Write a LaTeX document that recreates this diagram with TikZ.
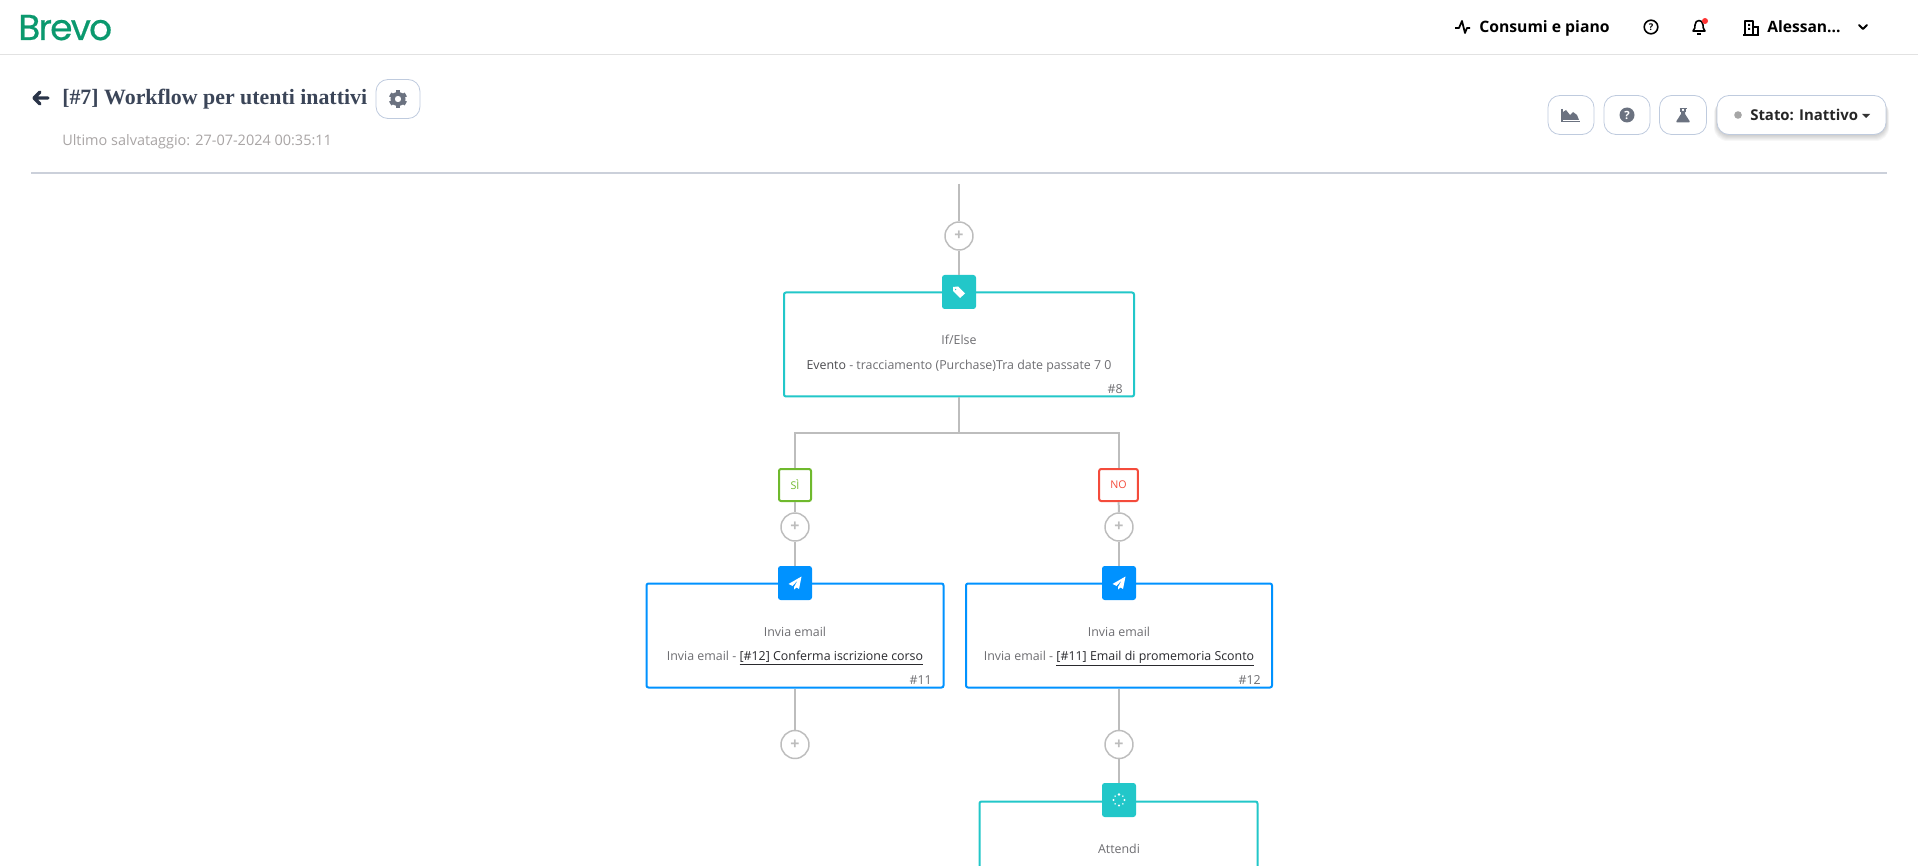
\documentclass[tikz,border=0pt]{standalone}
\usepackage{fontspec}
\setmainfont{Open Sans}
\newfontfamily\titlefont{Liberation Serif}
\newfontfamily\logofont[LetterSpace=-5,FakeBold=0.5]{Poppins}
\usepackage{xcolor}
\usetikzlibrary{
  arrows.meta,
  shapes.geometric,
  calc
}
\definecolor{logogreen}{HTML}{0B996E}
\definecolor{titleink}{HTML}{3B4558}
\definecolor{arrowink}{HTML}{2A3448}
\definecolor{dateink}{HTML}{A9A5A5}
\definecolor{ruleink}{HTML}{CBD0DA}
\definecolor{headrule}{HTML}{E2E2E2}
\definecolor{btnedge}{HTML}{BFCBDE}
\definecolor{iconink}{HTML}{6B7280}
\definecolor{wireink}{HTML}{BDBDBD}
\definecolor{tealbox}{HTML}{22C7C9}
\definecolor{bluebox}{HTML}{0092FF}
\definecolor{siink}{HTML}{6FB92D}
\definecolor{noink}{HTML}{F44B3B}
\definecolor{bodyink}{HTML}{6E6E72}
\definecolor{strongink}{HTML}{4C4C50}
\definecolor{linkink}{HTML}{2A2A2E}
\tikzset{
  boxsize/.style 2 args={minimum width=#1*0.75pt, minimum height=#2*0.75pt},
  flowbox/.style={draw=#1, line width=1.5pt, fill=white, rounded corners=1.5pt, inner sep=0pt},
  iconbox/.style={fill=#1, rounded corners=2pt, inner sep=0pt, minimum size=25.5pt},
  addbtn/.style={circle, draw=wireink, line width=1.1pt, fill=white, inner sep=0pt, minimum size=21pt,
    text=wireink, font=\fontsize{12pt}{12pt}\selectfont\bfseries},
  tagbox/.style={draw=#1, text=#1, line width=1.5pt, fill=white, rounded corners=1.5pt, inner sep=0pt,
    minimum height=24pt, font=\fontsize{8pt}{9pt}\selectfont},
  toolbtn/.style={draw=btnedge, line width=0.6pt, fill=white, rounded corners=9pt, inner sep=0pt},
  wire/.style={draw=wireink, line width=1.5pt},
  bodytxt/.style={inner sep=0pt, text=bodyink, font=\fontsize{9.3pt}{11pt}\selectfont},
  headtxt/.style={inner sep=0pt, font=\bfseries\fontsize{#1}{13pt}\selectfont}
}
\begin{document}
\begin{tikzpicture}[x=0.75pt, y=-0.75pt]
  \useasboundingbox (0,0) rectangle (1918,866);
  \fill[white] (0,0) rectangle (1918,866);
  \clip (0,0) rectangle (1918,866);

  \node[anchor=base west, inner sep=0pt, text=logogreen, font=\logofont\fontsize{27pt}{30pt}\selectfont] (logo) at (18,40) {Brevo};
  \coordinate (headl) at (0,55);
  \coordinate (headr) at (1918,55);
  \draw[headrule, line width=0.75pt] (headl) -- (headr);

  \node[headtxt=11.8pt, anchor=base west] (piano) at (1479,33) {Consumi e piano};
  \node[headtxt=11.7pt, anchor=base west] (user) at (1767,33) {Alessan...};
  \draw[line width=1.3pt, line join=round] (1455,28) -- (1459,28) -- (1462,21) -- (1465,33) -- (1467,28) -- (1470,28);
  \draw[line width=1.2pt] (1651,27) circle[radius=6.8];
  \node[anchor=center, inner sep=0pt, font=\bfseries\fontsize{7pt}{7pt}\selectfont] (helpq) at (1651,27) {?};
  \draw[line width=1.2pt, line join=round] (1693,31) .. controls (1695,29) and (1695,27) .. (1695,25) .. controls (1695,19) and (1703,19) .. (1703,25) .. controls (1703,27) and (1703,29) .. (1705,31) -- cycle;
  \fill (1697,33) rectangle (1701,35);
  \fill[red!80!white] (1705,21) circle[radius=3];
  \draw[line width=1.2pt, line join=round] (1745,35) -- (1745,21) -- (1753,21) -- (1753,35);
  \draw[line width=1.2pt] (1753,27) -- (1758,27) -- (1758,35);
  \draw[line width=1.2pt] (1743,35) -- (1759,35);
  \fill (1748,24) rectangle (1750,26) (1748,28) rectangle (1750,30);
  \draw[line width=1.4pt, line cap=round, line join=round] (1859,25) -- (1863,29) -- (1867,25);

  \draw[arrowink, line width=2.4pt, line join=round, line cap=round] (48,98) -- (34,98) (40,92) -- (34,98) -- (40,104);
  \node[anchor=base west, inner sep=0pt, text=titleink, font=\titlefont\bfseries\fontsize{16.4pt}{18pt}\selectfont] (title) at (62,105) {[\#7] Workflow per utenti inattivi};
  \node[anchor=base west, inner sep=0pt, text=dateink, font=\fontsize{10.85pt}{12pt}\selectfont] (saved) at (62,146) {Ultimo salvataggio: 27-07-2024 00:35:11};
  \coordinate (rulel) at (31,173);
  \coordinate (ruler) at (1887,173);
  \draw[ruleink, line width=0.8pt] (rulel) -- (ruler);

  \foreach \n/\x/\y/\w in {gearbtn/398/99/44, chartbtn/1571/115/46, hintbtn/1627/115/46, flaskbtn/1683/115/47}{
    \node[toolbtn, boxsize={\w}{39}] (\n) at (\x,\y) {};
  }
  \foreach \s in {1,...,6}{
    \fill[black, opacity=0.03, rounded corners=10pt] (1717-\s/2,97+\s/2) rectangle (1886+\s/2,135+\s);
  }
  \node[toolbtn, boxsize={169}{39}] (statobtn) at (1801.5,115) {};
  \fill[gray!70] (1738,115) circle[radius=3.8];
  \node[headtxt=11.2pt, anchor=base west, text=black!85] (stato) at (1750,121) {Stato: Inattivo};
  \fill[black!80] (1862,114) -- (1870,114) -- (1866,118) -- cycle;

  \begin{scope}[shift={(gearbtn.center)}, iconink]
    \draw[line width=3pt] (0,0) circle[radius=5.4];
    \foreach \a in {0,60,...,300}{
      \fill[rotate=\a] (-2.2,-9) rectangle (2.2,-6);
    }
  \end{scope}
  \begin{scope}[shift={(chartbtn.center)}, iconink]
    \fill (-8,5) -- (-8,-3) -- (-5,-5) -- (-1,0) -- (2,-3) -- (6,0) -- (8,5) -- cycle;
    \draw[line width=0.9pt] (-9,-6) -- (-9,6.5) -- (9,6.5);
  \end{scope}
  \begin{scope}[shift={(hintbtn.center)}]
    \fill[iconink] (0,0) circle[radius=7.5];
    \node[anchor=center, inner sep=0pt, text=white, font=\bfseries\fontsize{8.5pt}{9pt}\selectfont] (hintq) at (0,0) {?};
  \end{scope}
  \begin{scope}[shift={(flaskbtn.center)}, iconink]
    \fill (-2,-4) -- (2,-4) -- (2,-1) -- (6.5,6) .. controls (7,7) and (6.5,7.5) .. (5.5,7.5) -- (-5.5,7.5) .. controls (-6.5,7.5) and (-7,7) .. (-6.5,6) -- (-2,-1) -- cycle;
    \draw[line width=0.9pt] (-3.5,-6.5) -- (3.5,-6.5) (-2,-6.5) -- (-2,-3) (2,-6.5) -- (2,-3);
  \end{scope}

  \coordinate (start) at (959,184);
  \coordinate (split) at (959,433);

  \node[flowbox=tealbox, boxsize={350}{104}] (ifelse) at (959,344.5) {};
  \node[flowbox=bluebox, boxsize={297}{104}] (mailsi) at (795,635.5) {};
  \node[flowbox=bluebox, boxsize={306}{104}] (mailno) at (1119,635.5) {};
  \node[flowbox=tealbox, boxsize={278}{170}, anchor=north] (attendi) at (1118.5,800.5) {};

  \foreach \n/\x/\y in {addtop/959/236, addsi/795/527, addno/1119/527, addmailsi/795/744.5, addmailno/1119/744.5}{
    \node[addbtn] (\n) at (\x,\y) {+};
  }
  \foreach \n/\x/\y/\c in {icontag/959/292/tealbox, iconsi/795/583/bluebox, iconno/1119/583/bluebox, iconwait/1119/800/tealbox}{
    \node[iconbox=\c] (\n) at (\x,\y) {};
  }
  \node[tagbox=siink, minimum width=24pt] (si) at (795,485) {SÌ};
  \node[tagbox=noink, minimum width=29pt] (no) at (1118.5,485) {NO};

  \draw[wire] (start) -- (addtop);
  \draw[wire] (addtop) -- (icontag);
  \draw[wire] (ifelse) -- (split);
  \draw[wire] (si) |- (split) -| (no);
  \draw[wire] (si) -- (addsi);
  \draw[wire] (no) -- (addno);
  \draw[wire] (addsi) -- (iconsi);
  \draw[wire] (addno) -- (iconno);
  \draw[wire] (mailsi) -- (addmailsi);
  \draw[wire] (mailno) -- (addmailno);
  \draw[wire] (addmailno) -- (iconwait);

  \fill[white, even odd rule, shift={(icontag.center)}]
    (-6,-5) -- (-1,-5.5) -- (6,1.5) -- (1,6) -- (-6,-1) -- cycle (-3.4,-2.6) circle[radius=1];
  \foreach \n in {iconsi, iconno}{
    \fill[white, shift={(\n.center)}]
      (6.5,-6.5) -- (-6.5,1) -- (-2.5,3) -- (3,-3) -- (-1,4) -- (-1,6.5) -- (1.5,4.5) -- (4,6) -- cycle;
  }
  \foreach \a/\r in {0/1.1, 45/0.8, 90/1.2, 135/0.8, 180/1.2, 225/0.8, 270/1.4, 315/0.8}{
    \fill[white, shift={(iconwait.center)}] (\a:5.5) circle[radius=\r];
  }

  \foreach \n/\x/\y/\t in {lblif/959/345/{If/Else}, lblsi/795/636/{Invia email}, lblno/1119/636/{Invia email}, lblwait/1119/853/{Attendi}}{
    \node[bodytxt, anchor=base] (\n) at (\x,\y) {\t};
  }
  \node[bodytxt, anchor=base] (evento) at (959,369) {\textcolor{strongink}{Evento} - tracciamento (Purchase)Tra date passate 7 0};
  \node[bodytxt, anchor=base] (sendsi) at (795,660) {Invia email - \textcolor{linkink}{\underline{[\#12] Conferma iscrizione corso}}};
  \node[bodytxt, anchor=base] (sendno) at (1119,660) {Invia email - \textcolor{linkink}{\underline{[\#11] Email di promemoria Sconto}}};
  \foreach \n/\x/\y/\t in {idif/1123/393/8, idsi/932/684/11, idno/1261/684/12}{
    \node[bodytxt, anchor=base east] (\n) at (\x,\y) {\#\t};
  }
\end{tikzpicture}
\end{document}
